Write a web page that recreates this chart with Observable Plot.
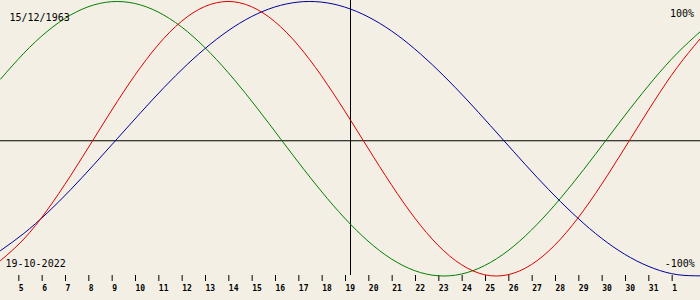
<!DOCTYPE html>
<html>
<head>
<meta charset="utf-8">
<script src="https://cdn.jsdelivr.net/npm/d3@7"></script>
<script src="https://cdn.jsdelivr.net/npm/@observablehq/plot@0.6"></script>
<style>
  html, body { margin: 0; padding: 0; background: #f3efe4; }
  #chart svg { display: block; }
</style>
</head>
<body>
<div id="chart"></div>
<script>
// day index -1 .. 29 (index 14 = today, the 19th)
const dayIndex = d3.range(-1, 30);
const physical = [-0.888,-0.731,-0.520,-0.270,0,0.270,0.520,0.731,0.888,0.979,0.998,0.942,0.817,0.631,0.398,0.136,-0.136,-0.398,-0.631,-0.817,-0.942,-0.998,-0.979,-0.888,-0.731,-0.520,-0.270,0,0.270,0.520,0.731];
const emotional = [0.434,0.623,0.782,0.901,0.975,1,0.975,0.901,0.782,0.623,0.434,0.223,0,-0.223,-0.434,-0.623,-0.782,-0.901,-0.975,-1,-0.975,-0.901,-0.782,-0.623,-0.434,-0.223,0,0.223,0.434,0.623,0.782];
const intellectual = [-0.815,-0.690,-0.541,-0.372,-0.189,0,0.189,0.372,0.541,0.690,0.815,0.910,0.972,0.999,0.990,0.945,0.866,0.756,0.618,0.458,0.282,0.095,-0.095,-0.282,-0.458,-0.618,-0.756,-0.866,-0.945,-0.990,-0.999];
const tickIndex = d3.range(0, 29);
const tickLabels = ["5","6","7","8","9","10","11","12","13","14","15","16","17","18","19","20","21","22","23","24","25","26","27","28","29","30","30","31","1"];
const todayIndex = 14;
const birthLabel = "15/12/1963";
const dateLabel = "19-10-2022";
const topLabel = "100%";
const bottomLabel = "-100%";

const series = (vals) => dayIndex.map((x, i) => ({x, v: vals[i]}));

const font = "'DejaVu Sans Mono', monospace";
const plot = Plot.plot({
  width: 700,
  height: 300,
  marginTop: 0,
  marginLeft: 0,
  marginRight: 0,
  marginBottom: 25,
  style: {background: "#f3efe4", color: "black", fontFamily: font},
  x: {domain: [-1, 29], range: [0, 700], axis: null, label: null},
  y: {domain: [-1, 1], range: [275.5, 1], axis: null, label: null},
  marks: [
    Plot.ruleY([0], {stroke: "black", dy: 2}),
    Plot.ruleX([todayIndex], {stroke: "black"}),
    Plot.axisX(tickIndex, {
      anchor: "bottom", tickSize: 6, tickPadding: 4, label: null,
      tickFormat: d => tickLabels[d],
      fontSize: 8, fontWeight: "bold", fontFamily: font,
      textAnchor: "start", dx: -5, stroke: "black"
    }),
    Plot.line(series(emotional), {x: "x", y: "v", stroke: "#008000", strokeWidth: 1, curve: "natural"}),
    Plot.line(series(intellectual), {x: "x", y: "v", stroke: "#00009c", strokeWidth: 1, curve: "natural"}),
    Plot.line(series(physical), {x: "x", y: "v", stroke: "#e00000", strokeWidth: 1, curve: "natural"}),
    Plot.text([birthLabel], {frameAnchor: "top-left", text: d => d, textAnchor: "start", lineAnchor: "top", dx: 9, dy: 13.6, fontSize: 10, fontFamily: font, fill: "black"}),
    Plot.text([topLabel], {frameAnchor: "top-right", text: d => d, textAnchor: "end", lineAnchor: "top", dx: -6.5, dy: 8.9, fontSize: 10, fontFamily: font, fill: "black"}),
    Plot.text([dateLabel], {frameAnchor: "top-left", text: d => d, textAnchor: "start", lineAnchor: "top", dx: 5, dy: 258.9, fontSize: 10, fontFamily: font, fill: "black"}),
    Plot.text([bottomLabel], {frameAnchor: "top-right", text: d => d, textAnchor: "end", lineAnchor: "top", dx: -5.7, dy: 258.9, fontSize: 10, fontFamily: font, fill: "black"})
  ]
});
document.getElementById("chart").appendChild(plot);
</script>
</body>
</html>
